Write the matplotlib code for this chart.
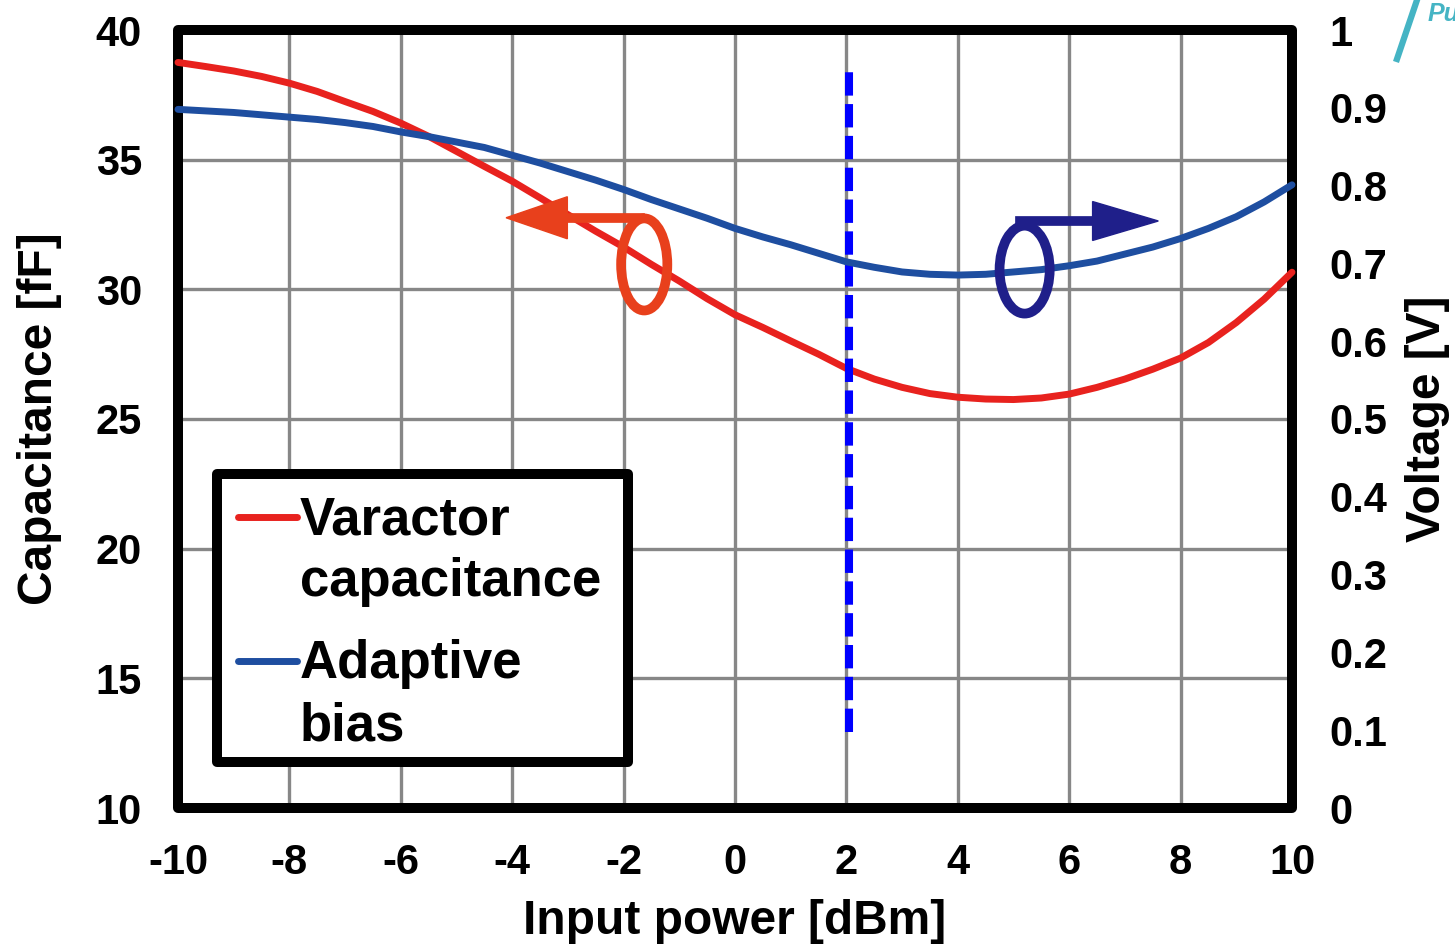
import numpy as np
import matplotlib
matplotlib.use("Agg")
import matplotlib.pyplot as plt
from matplotlib.patches import Ellipse, Polygon, Rectangle
from matplotlib.lines import Line2D

plt.rcParams['font.family'] = ['Liberation Sans', 'DejaVu Sans']
plt.rcParams['font.weight'] = 'bold'
plt.rcParams['axes.unicode_minus'] = False

# Datos (cada 0.5 dBm)
potencia = [-10, -9.5, -9, -8.5, -8, -7.5, -7, -6.5, -6, -5.5, -5,
            -4.5, -4, -3.5, -3, -2.5, -2, -1.5, -1, -0.5, 0,
            0.5, 1, 1.5, 2, 2.5, 3, 3.5, 4, 4.5, 5,
            5.5, 6, 6.5, 7, 7.5, 8, 8.5, 9, 9.5, 10]
capacitancia = [38.75, 38.59, 38.42, 38.21, 37.95, 37.63, 37.24, 36.86, 36.41, 35.90, 35.32,
                34.74, 34.17, 33.53, 32.88, 32.24, 31.63, 30.96, 30.32, 29.64, 29.02,
                28.53, 28.01, 27.50, 26.95, 26.54, 26.22, 25.98, 25.84, 25.77, 25.75,
                25.81, 25.96, 26.22, 26.54, 26.92, 27.35, 27.95, 28.72, 29.62, 30.66]
voltaje = [0.898, 0.896, 0.894, 0.891, 0.888, 0.885, 0.881, 0.876, 0.869, 0.863, 0.856,
           0.849, 0.839, 0.829, 0.818, 0.807, 0.795, 0.782, 0.770, 0.758, 0.745,
           0.734, 0.724, 0.713, 0.702, 0.695, 0.689, 0.686, 0.685, 0.686, 0.689,
           0.692, 0.697, 0.703, 0.712, 0.721, 0.732, 0.745, 0.760, 0.779, 0.801]

# Línea vertical discontinua
linea_x = 2.04
linea_c = [12.93, 38.46]

xticks = list(range(-10, 11, 2))
cticks = list(range(10, 41, 5))
vticks = [round(0.1 * i, 1) for i in range(11)]
vlabels = ['0'] + [f'{v:.1f}' for v in vticks[1:-1]] + ['1']

rojo = '#E8221E'
azul = '#1E4EA0'
naranja = '#E8401C'
marino = '#1F1F8A'

fig = plt.figure(figsize=(14.55, 9.47), dpi=100)
ax = fig.add_axes([178 / 1455, 1 - 808 / 947, 1114 / 1455, 778 / 947])
ax2 = ax.twinx()

ax.set_xlim(-10, 10)
ax.set_ylim(10, 40)
ax2.set_ylim(0, 1)
ax.set_xticks(xticks)
ax.set_yticks(cticks)
ax2.set_yticks(vticks)
ax2.set_yticklabels(vlabels)

ax.grid(True, color='#878787', lw=2.4)
ax.set_axisbelow(True)
for a in (ax, ax2):
    for s in a.spines.values():
        s.set_visible(False)
ax.tick_params(axis='both', length=0, labelsize=30)
ax.tick_params(axis='y', pad=26)
ax.tick_params(axis='x', pad=25)
ax2.tick_params(axis='y', length=0, labelsize=30, pad=27)

# Marco
ax.add_patch(Rectangle((0, 0), 1, 1, transform=ax.transAxes, fill=False,
                       lw=7.2, ec='black', joinstyle='round', clip_on=False, zorder=1.5))

# Curvas
ax.plot(potencia, capacitancia, color=rojo, lw=5, solid_capstyle='round',
        solid_joinstyle='round', zorder=3, clip_on=False)
ax2.plot(potencia, voltaje, color=azul, lw=5, solid_capstyle='round',
         solid_joinstyle='round', zorder=3, clip_on=False)
ax.plot([linea_x, linea_x], linea_c, color='#0000FF', lw=5.8,
        linestyle=(0, (2.9, 1.05)), zorder=4)

# Anotación roja (eje izquierdo)
ax.add_patch(Ellipse((-1.63, 30.96), 0.83, 3.55, fill=False, ec=naranja, lw=7, zorder=5))
ax.plot([-1.70, -3.0], [32.76, 32.76], color=naranja, lw=7, zorder=5)
ax.add_patch(Polygon([(-3.01, 33.57), (-3.01, 31.95), (-4.11, 32.76)], closed=True,
                     fc=naranja, ec=naranja, lw=1, zorder=5))

# Anotación azul (eje derecho)
ax2.add_patch(Ellipse((5.2, 0.692), 0.9, 0.113, fill=False, ec=marino, lw=7, zorder=5))
ax2.plot([5.12, 6.45], [0.7545, 0.7545], color=marino, lw=7, zorder=5)
ax2.add_patch(Polygon([(6.42, 0.7795), (6.42, 0.7295), (7.6, 0.7545)], closed=True,
                      fc=marino, ec=marino, lw=1, zorder=5))

# Leyenda
ax.add_patch(Rectangle((0.035, 0.059), 0.369, 0.370, transform=ax.transAxes,
                       fc='white', ec='black', lw=7.2, joinstyle='round', zorder=6))
ax.add_line(Line2D([0.054, 0.107], [0.374, 0.374], transform=ax.transAxes,
                   color=rojo, lw=5, solid_capstyle='round', zorder=7))
ax.add_line(Line2D([0.054, 0.107], [0.189, 0.189], transform=ax.transAxes,
                   color=azul, lw=5, solid_capstyle='round', zorder=7))
for txt, yy in [('Varactor', 0.351), ('capacitance', 0.272), ('Adaptive', 0.167), ('bias', 0.087)]:
    ax.text(0.1095, yy, txt, transform=ax.transAxes, fontsize=38, fontweight='bold',
            va='baseline', ha='left', zorder=7)

# Etiquetas de ejes
ax.set_xlabel('Input power [dBm]', fontsize=34.5, fontweight='bold')
ax.xaxis.set_label_coords(0.5, -0.117)
ax.set_ylabel('Capacitance [fF]', fontsize=34.5, fontweight='bold')
ax.yaxis.set_label_coords(-0.104, 0.5)
ax2.set_ylabel('Voltage [V]', fontsize=34.5, fontweight='bold')
ax2.yaxis.set_label_coords(1.1014, 0.5)

# Marca de agua recortada
fig.add_artist(Line2D([1397 / 1455, 1417 / 1455], [1 - 59 / 947, 1.0],
                      transform=fig.transFigure, color='#45B4C4', lw=4.5))
fig.text(1428 / 1455, 1 - 21 / 947, 'Pu', color='#45B4C4', fontsize=18,
         fontweight='bold', style='italic', va='baseline', ha='left')

fig.savefig('out.png', dpi=100)
